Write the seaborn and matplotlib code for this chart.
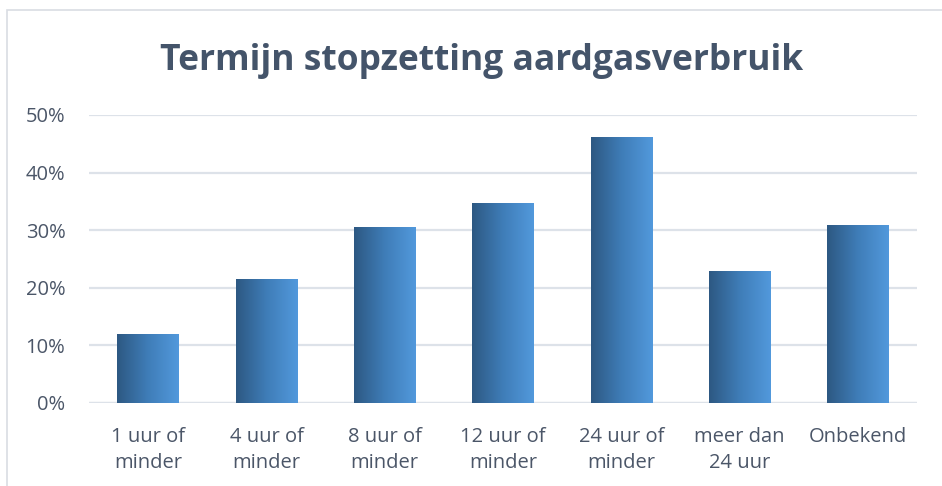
import matplotlib
matplotlib.use("Agg")
import matplotlib.pyplot as plt
import seaborn as sns
import numpy as np
import pandas as pd
from matplotlib.colors import LinearSegmentedColormap
from matplotlib.patches import Rectangle
from matplotlib.ticker import PercentFormatter

# data
categories = ["1 uur of\nminder", "4 uur of\nminder", "8 uur of\nminder", "12 uur of\nminder",
              "24 uur of\nminder", "meer dan\n24 uur", "Onbekend"]
shares = [0.12, 0.215, 0.306, 0.347, 0.462, 0.229, 0.309]
yticks = [0, 0.1, 0.2, 0.3, 0.4, 0.5]

title_color = "#44546A"
text_color = "#4B5668"
grid_color = "#DDE2E9"
grad = LinearSegmentedColormap.from_list("bar", ["#2D5882", "#3F7DB8", "#5299DC"])

sns.set_theme(style="white")
plt.rcParams["font.family"] = ["Open Sans", "DejaVu Sans"]

df = pd.DataFrame({"termijn": categories, "aandeel": shares})

fig = plt.figure(figsize=(9.42, 4.86), dpi=100)
ax = fig.add_axes([0.0945, 0.1708, 0.879, 0.5926])

sns.barplot(data=df, x="termijn", y="aandeel", ax=ax, width=0.52, color="#3F7DB8")

# gradient fill, clipped to each bar
gradient = np.linspace(0, 1, 256).reshape(1, -1)
for bar in ax.patches:
    x0, y0 = bar.get_x(), bar.get_y()
    w, h = bar.get_width(), bar.get_height()
    im = ax.imshow(gradient, cmap=grad, aspect="auto", extent=[x0, x0 + w, y0, y0 + h],
                   zorder=bar.get_zorder() + 0.1, interpolation="bicubic")
    im.set_clip_path(bar)
    bar.set_facecolor("none")
    bar.set_edgecolor("none")

ax.set_xlim(-0.5, len(categories) - 0.5)
ax.set_ylim(0, 0.5)
ax.set_yticks(yticks)
ax.yaxis.set_major_formatter(PercentFormatter(1.0, decimals=0))
ax.set_axisbelow(True)
ax.yaxis.grid(True, color=grid_color, linewidth=1.6)
ax.xaxis.grid(False)
for s in ax.spines.values():
    s.set_visible(False)
ax.axhline(0, color=grid_color, linewidth=1.6, zorder=0.5)

ax.set_xlabel("")
ax.set_ylabel("")
ax.tick_params(axis="both", length=0, labelsize=14.5, labelcolor=text_color)
ax.tick_params(axis="y", pad=17)
ax.tick_params(axis="x", pad=17)
for lab in ax.get_xticklabels():
    lab.set_linespacing(1.4)

fig.text(0.511, 0.874, "Termijn stopzetting aardgasverbruik", ha="center", va="center",
         fontsize=25.5, fontweight="bold", color=title_color)

# chart border
fig.add_artist(Rectangle((7 / 942, -0.05), 1.2, 1 - 10 / 486 + 0.05, transform=fig.transFigure,
                         fill=False, edgecolor="#D9DDE3", linewidth=1.2))

fig.savefig("out.png", dpi=100, facecolor="white")
